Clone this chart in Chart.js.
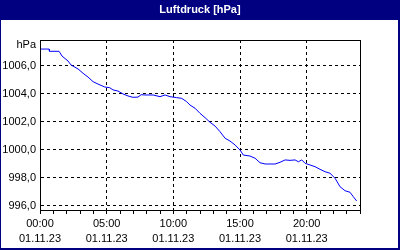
<!DOCTYPE html>
<html lang="de">
<head>
    <meta charset="UTF-8">
    <title>Luftdruck [hPa]</title>
    <script src="https://cdn.jsdelivr.net/npm/chart.js"></script>
    <style>
        html, body { margin: 0; padding: 0; background: #fff; }
        #box { width: 400px; height: 250px; }
    </style>
</head>
<body>
    <div id="box"><canvas id="druck-canvas" width="400" height="250"></canvas></div>

    <script>
        // Messwerte (Stunden seit 00:00 am 01.11.23, Luftdruck in hPa)
        const stunden = [0, 0.68, 0.71, 1.43, 1.65, 2.1, 2.33, 2.85, 3.23, 3.6,
            3.98, 4.35, 4.85, 5.23, 5.48, 5.85, 6.23, 6.6, 6.98, 7.35,
            7.58, 7.88, 8.48, 9.0, 9.38, 9.75, 10.25, 10.63, 11.0, 11.25,
            11.63, 12.0, 12.38, 12.75, 13.13, 13.5, 13.88, 14.25, 14.63, 15.0,
            15.25, 15.75, 16.13, 16.5, 16.88, 17.63, 18.0, 18.38, 18.75, 19.13,
            19.38, 19.63, 19.88, 20.25, 20.63, 21.0, 21.38, 21.75, 22.13, 22.5,
            22.88, 23.25, 23.5, 23.75];
        const druck = [1007.21, 1007.21, 1007.05, 1007.05, 1006.71, 1006.36, 1006.07, 1005.79, 1005.48, 1005.21,
            1004.88, 1004.71, 1004.5, 1004.45, 1004.29, 1004.21, 1004.0, 1003.86, 1003.76, 1003.78,
            1003.95, 1003.93, 1003.93, 1003.81, 1003.93, 1003.81, 1003.74, 1003.69, 1003.45, 1003.21,
            1002.98, 1002.62, 1002.31, 1001.98, 1001.71, 1001.31, 1000.84, 1000.64, 1000.36, 1000.0,
            999.64, 999.57, 999.41, 999.09, 999.0, 999.0, 999.12, 999.29, 999.26, 999.29,
            999.16, 999.29, 999.05, 998.93, 998.81, 998.62, 998.45, 998.34, 997.98, 997.38,
            997.09, 996.98, 996.66, 996.36];
        const datum = "01.11.23";
        const titel = "Luftdruck [hPa]";
        const einheit = "hPa";

        const NAVY = "#000080";
        Chart.defaults.color = "#000";
        Chart.defaults.font.family = "'Liberation Sans', Arial, sans-serif";
        Chart.defaults.font.size = 11;

        // Rahmen, Titelleiste und Einheit
        const rahmenPlugin = {
            id: "rahmen",
            beforeDraw(chart) {
                const ctx = chart.ctx;
                ctx.save();
                ctx.fillStyle = "#fff";
                ctx.fillRect(0, 0, chart.width, chart.height);
                ctx.restore();
            },
            afterDraw(chart) {
                const ctx = chart.ctx;
                const a = chart.chartArea;
                ctx.save();
                ctx.fillStyle = NAVY;
                ctx.fillRect(0, 0, chart.width, 20);
                ctx.fillRect(0, 0, 1, chart.height);
                ctx.fillRect(chart.width - 2, 0, 2, chart.height);
                ctx.fillRect(0, chart.height - 2, chart.width, 2);
                ctx.fillStyle = "#fff";
                ctx.font = "bold 11px 'Liberation Sans', Arial, sans-serif";
                ctx.textAlign = "center";
                ctx.textBaseline = "middle";
                ctx.fillText(titel, chart.width / 2, 10);

                ctx.strokeStyle = "#000";
                ctx.lineWidth = 1;
                ctx.strokeRect(a.left + 0.5, a.top + 0.5, a.right - a.left, a.bottom - a.top);

                ctx.fillStyle = "#000";
                ctx.font = "11px 'Liberation Sans', Arial, sans-serif";
                ctx.textAlign = "right";
                ctx.fillText(einheit, 36, 45);
                ctx.restore();
            }
        };

        const ctx = document.getElementById("druck-canvas").getContext("2d");
        const druckChart = new Chart(ctx, {
            type: "line",
            data: {
                datasets: [{
                    data: stunden.map((h, i) => ({ x: h, y: druck[i] })),
                    borderColor: "#0000ff",
                    borderWidth: 1,
                    pointRadius: 0,
                    tension: 0,
                    fill: false
                }]
            },
            options: {
                responsive: false,
                animation: false,
                layout: { padding: { left: 0, right: 40, top: 40, bottom: 0 } },
                plugins: { legend: { display: false }, tooltip: { enabled: false } },
                scales: {
                    x: {
                        type: "linear",
                        min: 0,
                        max: 24,
                        afterFit: (s) => { s.height = 40; },
                        ticks: {
                            stepSize: 1,
                            autoSkip: false,
                            maxRotation: 0,
                            padding: 3,
                            font: { size: 11, lineHeight: 1.35 },
                            callback: (v) => v % 5 === 0 ? [String(v).padStart(2, "0") + ":00", datum] : ""
                        },
                        grid: {
                            color: (c) => (c.tick && c.tick.value % 5 === 0 && c.tick.value > 0 && c.tick.value < 24) ? "#000" : "rgba(0,0,0,0)",
                            tickColor: "#000",
                            tickLength: 4
                        },
                        border: { color: "#000", dash: [3, 3] }
                    },
                    y: {
                        min: 995.714,
                        max: 1007.857,
                        afterFit: (s) => { s.width = 40; },
                        ticks: {
                            stepSize: 2,
                            includeBounds: false,
                            padding: 4,
                            callback: (v) => v.toFixed(1).replace(".", ",")
                        },
                        grid: { color: "#000", drawTicks: false },
                        border: { color: "#000", dash: [3, 3] }
                    }
                }
            },
            plugins: [rahmenPlugin]
        });
    </script>
</body>
</html>
